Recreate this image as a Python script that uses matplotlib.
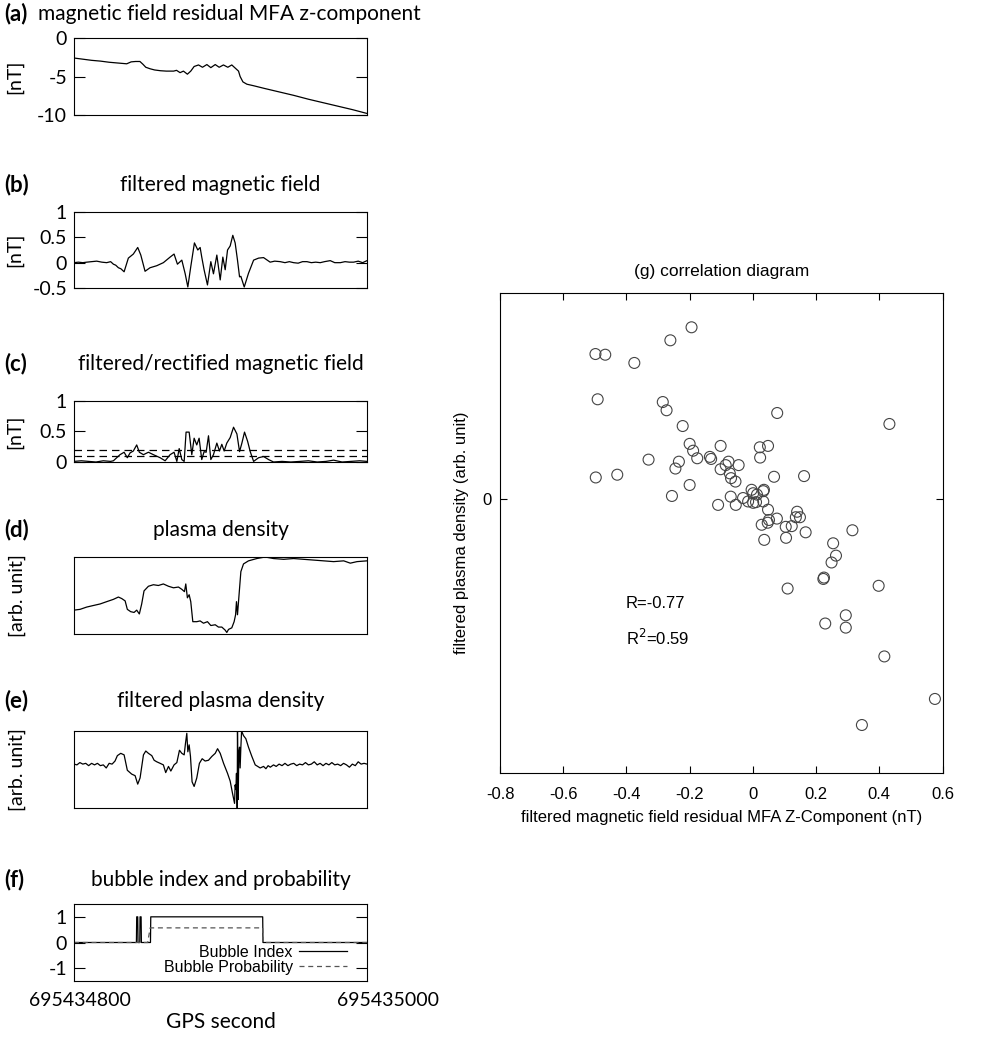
import matplotlib
matplotlib.use("Agg")
import matplotlib.pyplot as plt
from matplotlib.transforms import ScaledTranslation

plt.rcParams['font.family'] = ['Lato', 'DejaVu Sans']
plt.rcParams['axes.unicode_minus'] = False

# ---- data (time in seconds from 695434800) ----
a_t = [0, 6, 12, 18, 24, 30, 36, 39, 42, 45, 47, 49, 52, 55, 59, 63, 68, 70, 72.4, 74.7,
       77.4, 79.7, 82, 85, 87.7, 90.7, 93.4, 96.4, 99.1, 102, 105, 107.7, 110, 112.3, 113.4,
       115.3, 118, 122.6, 130, 140, 150, 160, 170, 180, 190, 200]
a_v = [-2.6, -2.75, -2.9, -3.0, -3.15, -3.25, -3.35, -3.1, -3.05, -3.05, -3.4, -3.8, -4.0,
       -4.15, -4.25, -4.3, -4.3, -4.2, -4.5, -4.3, -4.7, -4.3, -3.7, -3.5, -3.8, -3.45, -3.85,
       -3.45, -3.8, -3.5, -3.8, -3.5, -3.9, -4.3, -5.0, -5.7, -6.0, -6.2, -6.55, -7.0, -7.45,
       -7.95, -8.4, -8.85, -9.3, -9.8]

b_t = [0, 3, 6, 8.7, 12, 15.5, 19, 22.3, 25, 26.9, 28.5, 30.3, 32, 34.2, 37.1, 40.5, 43.5,
       45.6, 48.5, 51.9, 56.5, 61, 65.6, 68.3, 70.6, 73.6, 75.9, 77.7, 79.7, 82.2, 84.5, 86.1,
       87.2, 88.8, 91.1, 93.4, 95.2, 97.5, 99.8, 101.6, 103.2, 104.8, 106.6, 108.4, 110, 111.6,
       113, 113.9, 116.2, 119.1, 122.6, 126, 129.4, 133.9, 137, 140.8, 144, 147, 149.9, 153,
       156, 159, 162, 165, 168.1, 171, 174.9, 178, 181.8, 185, 188, 190.9, 194, 197, 200]
b_v = [0.0, 0.01, 0.0, 0.01, 0.02, 0.03, 0.01, 0.0, 0.02, -0.03, -0.05, -0.10, -0.12, -0.18,
       0.09, 0.17, 0.30, 0.15, -0.17, -0.10, -0.06, 0.0, 0.11, 0.17, -0.03, 0.05, -0.22, -0.48,
       -0.08, 0.39, 0.25, 0.30, 0.11, -0.14, -0.44, 0.02, -0.22, 0.15, -0.34, 0.11, -0.14, 0.25,
       0.33, 0.54, 0.39, 0.05, -0.28, -0.27, -0.48, -0.21, 0.05, 0.09, 0.10, 0.01, 0.03, 0.02,
       0.0, 0.02, 0.0, -0.01, 0.02, 0.02, 0.0, 0.01, 0.0, 0.02, 0.04, 0.0, 0.0, 0.02, 0.01, 0.01,
       0.03, 0.0, 0.04]

c_t = [0, 5, 10, 15, 20, 25, 26.9, 31.4, 34.2, 36.4, 38.3, 40.5, 42.8, 44.6, 47.4, 50.8, 54.2,
       58.8, 62.2, 65.6, 68.3, 70.2, 71.8, 73.6, 75.2, 76.5, 78.6, 80.4, 82, 83.8, 85.4, 87.2,
       88.8, 90.2, 91.8, 93.4, 95.2, 97.5, 99.3, 100.9, 102.5, 104.3, 106.6, 108.9, 111.2, 113,
       114.6, 116.4, 118.5, 120.3, 122.6, 126, 129.4, 132.8, 136.2, 142, 148, 154.4, 160, 166,
       172, 177.2, 183, 189, 195, 200]
c_v = [0.01, 0.02, 0.01, 0.0, 0.02, 0.01, 0.02, 0.12, 0.16, 0.07, 0.15, 0.18, 0.28, 0.16, 0.12,
       0.16, 0.12, 0.07, 0.02, 0.12, 0.16, 0.01, 0.22, 0.04, 0.01, 0.49, 0.49, 0.12, 0.39, 0.28,
       0.39, 0.04, 0.17, 0.16, 0.43, 0.04, 0.12, 0.31, 0.18, 0.29, 0.18, 0.31, 0.40, 0.57, 0.46,
       0.17, 0.31, 0.49, 0.34, 0.17, 0.01, 0.07, 0.09, 0.04, 0.0, 0.01, 0.0, 0.01, 0.02, 0.0,
       0.01, 0.03, 0.0, 0.01, 0.02, 0.01]
c_thresholds = [0.1, 0.2]

d_t = [0, 4.1, 8.7, 13.2, 17.8, 22.3, 26.9, 30.3, 32.6, 34.9, 36.4, 38.7, 41, 42.8, 44.6, 46.2,
       47.8, 50.8, 54.2, 57.6, 61, 64.5, 67.9, 71.3, 73.6, 75.4, 76.3, 77.4, 78.6, 79.7, 81.1,
       83.8, 86.1, 88.4, 91.1, 93.4, 96.4, 98.6, 100.9, 103.2, 104.3, 105.5, 107.7, 109.3,
       110.3, 110.9, 111.6, 112.5, 113.9, 115.7, 119.1, 124.8, 130.5, 136.2, 143.1, 149.9,
       156.7, 163.6, 170.4, 177.2, 184.1, 188.6, 193.2, 200]
d_v = [0.31, 0.32, 0.35, 0.37, 0.39, 0.42, 0.45, 0.48, 0.46, 0.43, 0.32, 0.29, 0.28, 0.31, 0.26,
       0.39, 0.56, 0.62, 0.64, 0.63, 0.65, 0.62, 0.60, 0.61, 0.58, 0.55, 0.65, 0.47, 0.51, 0.42,
       0.16, 0.16, 0.17, 0.14, 0.16, 0.11, 0.12, 0.09, 0.09, 0.05, 0.02, 0.06, 0.08, 0.16, 0.25,
       0.42, 0.25, 0.47, 0.81, 0.91, 0.95, 0.98, 1.0, 0.98, 0.97, 0.98, 0.97, 0.96, 0.95, 0.94,
       0.95, 0.92, 0.94, 0.95]

e_t = [0, 2, 4, 6, 8, 10, 12, 14, 16, 18, 20, 22, 24, 26, 28, 29.6, 31.9, 34.2, 36.4, 39.4,
       41.7, 43.5, 45.1, 47.4, 49, 50.8, 53.1, 54.7, 56.5, 58.8, 61, 62.6, 64.5, 66.1, 68.3,
       70.2, 72, 73.6, 75.2, 76.1, 77, 77.7, 78.6, 79.5, 80.6, 82, 83.8, 85.6, 87.5, 89.5, 91.8,
       94.1, 96.4, 98, 99.8, 102.1, 104.8, 106.6, 108.2, 109.6, 110.0, 110.5, 110.9, 111.4,
       111.6, 112.1, 112.5, 113.0, 113.4, 113.9, 114.4, 115.7, 117.3, 119.1, 121.4, 123.7,
       127.1, 129.4, 131, 132.5, 134, 136.2, 138, 140, 142, 144, 146, 148, 150, 152, 154, 156,
       158, 160, 162, 164, 166, 168, 170, 172, 174, 176, 178, 180, 182, 184, 186, 188, 190,
       192, 194, 196, 198, 200]
e_v = [0.57, 0.56, 0.59, 0.57, 0.58, 0.55, 0.58, 0.56, 0.58, 0.55, 0.56, 0.52, 0.58, 0.57,
       0.61, 0.68, 0.71, 0.69, 0.49, 0.44, 0.42, 0.31, 0.39, 0.69, 0.74, 0.71, 0.68, 0.62, 0.60,
       0.58, 0.56, 0.46, 0.54, 0.48, 0.56, 0.59, 0.75, 0.71, 0.69, 0.84, 0.97, 0.73, 0.82, 0.67,
       0.34, 0.28, 0.39, 0.58, 0.64, 0.61, 0.62, 0.67, 0.71, 0.77, 0.71, 0.58, 0.45, 0.35, 0.19,
       0.06, 0.30, 0.24, 0.45, 0.0, 1.0, 0.11, 0.73, 0.79, 0.52, 0.79, 1.0, 0.94, 0.90, 0.79,
       0.67, 0.56, 0.52, 0.54, 0.51, 0.55, 0.53, 0.56, 0.54, 0.57, 0.55, 0.58, 0.55, 0.57, 0.58,
       0.55, 0.57, 0.56, 0.59, 0.56, 0.57, 0.60, 0.56, 0.58, 0.55, 0.58, 0.56, 0.59, 0.56, 0.57,
       0.55, 0.58, 0.56, 0.53, 0.57, 0.55, 0.60, 0.57, 0.58, 0.57]

f_t = [0, 42.6, 42.8, 43.5, 43.7, 44.9, 45.1, 45.8, 46.0, 52.2, 52.4, 128.8, 129.0, 200]
f_index = [0, 0, 1, 1, 0, 0, 1, 1, 0, 0, 1, 1, 0, 0]
f_pt = [0, 50.3, 52.0, 128.8, 129.0, 200]
f_prob = [0, 0, 0.57, 0.57, 0, 0]
f_tick_labels = ['695434800', '695435000']

g_x = [-0.194, -0.261, -0.498, -0.467, -0.375, -0.491, -0.285, -0.273, 0.077, 0.432,
       -0.222, -0.200, -0.189, -0.102, 0.022, 0.048, 0.023, -0.176, -0.136, -0.132,
       -0.330, -0.234, -0.245, -0.077, -0.045, -0.086, -0.102, -0.073, -0.069, -0.055,
       0.067, 0.162, -0.497, -0.429, -0.200, -0.256, -0.110, -0.070, -0.054, -0.031,
       -0.004, 0.001, 0.033, 0.035, -0.015, 0.001, 0.010, 0.033, 0.048, 0.140,
       0.149, 0.136, 0.076, 0.051, 0.028, 0.047, 0.104, 0.123, 0.167, 0.315,
       0.036, 0.105, 0.254, 0.263, 0.249, 0.223, 0.225, 0.110, 0.398, 0.294,
       0.229, 0.294, 0.416, 0.576, 0.345, 0.013]
g_y = [2.50, 2.31, 2.11, 2.10, 1.98, 1.45, 1.41, 1.29, 1.25, 1.09,
       1.06, 0.80, 0.70, 0.77, 0.75, 0.77, 0.60, 0.59, 0.61, 0.58,
       0.57, 0.54, 0.44, 0.54, 0.49, 0.49, 0.43, 0.37, 0.30, 0.25,
       0.32, 0.33, 0.31, 0.35, 0.20, 0.04, -0.09, 0.03, -0.09, 0.01,
       0.13, 0.08, 0.11, 0.13, -0.04, -0.06, -0.05, -0.04, -0.16, -0.19,
       -0.27, -0.27, -0.29, -0.31, -0.38, -0.35, -0.41, -0.40, -0.49, -0.46,
       -0.60, -0.57, -0.65, -0.83, -0.93, -1.17, -1.15, -1.31, -1.27, -1.70,
       -1.82, -1.88, -2.30, -2.92, -3.30, 0.06]
g_xticks = [-0.8, -0.6, -0.4, -0.2, 0, 0.2, 0.4, 0.6]
g_xticklabels = ['-0.8', '-0.6', '-0.4', '-0.2', '0', '0.2', '0.4', '0.6']

W, H = 999, 1049
fig = plt.figure(figsize=(W / 100, H / 100), dpi=100)


def box(left, top, right, bottom):
    return [left / W, 1 - bottom / H, (right - left) / W, (bottom - top) / H]


def ftext(x, y, s, **kw):
    fig.text(x / W, 1 - y / H, s, va='center', **kw)


def style_left(ax, ylim, yticks, ylabels, ylabel, lab_x=-0.174):
    ax.set_xlim(0, 200)
    ax.set_ylim(*ylim)
    ax.set_yticks(yticks)
    ax.set_yticklabels(ylabels)
    ax.tick_params(axis='y', direction='in', length=8, width=0.8, right=True,
                   labelsize=14, pad=5)
    ax.tick_params(axis='x', length=0, labelbottom=False)
    ax.set_ylabel(ylabel, fontsize=14, labelpad=0)
    ax.yaxis.set_label_coords(lab_x, 0.5)
    for s in ax.spines.values():
        s.set_linewidth(0.8)


lw = 0.9
LX = 74
RX = 367
TFS = 15
panels = [
    ('(b)', 'filtered magnetic field', 185),
    ('(c)', 'filtered/rectified magnetic field', 364),
    ('(d)', 'plasma density', 530),
    ('(e)', 'filtered plasma density', 701),
    ('(f)', 'bubble index and probability', 880),
]

# (a)
ax = fig.add_axes(box(LX, 38, RX, 115))
ax.plot(a_t, a_v, color='black', lw=lw)
style_left(ax, (-10, 0), [0, -5, -10], ['0', '-5', '-10'], '[nT]')
ftext(4, 14, '(a)', fontsize=16, fontweight='bold')
ftext(38, 14, 'magnetic field residual MFA z-component', fontsize=TFS)

# (b)
ax = fig.add_axes(box(LX, 212, RX, 288))
ax.plot(b_t, b_v, color='black', lw=lw)
style_left(ax, (-0.5, 1), [1, 0.5, 0, -0.5], ['1', '0.5', '0', '-0.5'], '[nT]')

# (c)
ax = fig.add_axes(box(LX, 401, RX, 462))
ax.plot(c_t, c_v, color='black', lw=lw)
for thr in c_thresholds:
    ax.axhline(thr, color='black', lw=lw, ls=(0, (6, 4)))
style_left(ax, (0, 1), [1, 0.5, 0], ['1', '0.5', '0'], '[nT]')

# (d)
ax = fig.add_axes(box(LX, 557, RX, 634))
ax.plot(d_t, d_v, color='black', lw=lw)
style_left(ax, (0, 1.0), [], [], '[arb. unit]', lab_x=-0.164)

# (e)
ax = fig.add_axes(box(LX, 731, RX, 808))
ax.plot(e_t, e_v, color='black', lw=lw)
style_left(ax, (0, 1.0), [], [], '[arb. unit]', lab_x=-0.164)

# (f)
ax = fig.add_axes(box(LX, 904, RX, 981))
ax.plot(f_t, f_index, color='black', lw=lw, label='Bubble Index')
ax.plot(f_pt, f_prob, color='#555555', lw=lw, ls=(0, (4, 3)), label='Bubble Probability')
style_left(ax, (-1.5, 1.5), [1, 0, -1], ['1', '0', '-1'], '')
ax.set_xticks([0, 200])
ax.set_xticklabels(f_tick_labels)
ax.tick_params(axis='x', length=0, labelbottom=True, labelsize=14, pad=8)
xl = ax.get_xticklabels()
xl[0].set_transform(xl[0].get_transform() + ScaledTranslation(6 / 100, 0, fig.dpi_scale_trans))
xl[1].set_transform(xl[1].get_transform() + ScaledTranslation(21 / 100, 0, fig.dpi_scale_trans))
ax.set_xlabel('GPS second', fontsize=TFS, labelpad=0)
ax.xaxis.set_label_coords(0.50, -0.40)
leg = ax.legend(loc='lower right', bbox_to_anchor=(0.959, -0.02), frameon=False,
                markerfirst=False, handlelength=3.0, handletextpad=0.4, labelspacing=0.0,
                borderpad=0, prop={'family': 'Liberation Sans', 'size': 11.5})

for lab, title, y in panels:
    ftext(4, y, lab, fontsize=16, fontweight='bold')
    ftext((LX + RX) / 2, y, title, fontsize=TFS, ha='center')

# (g) correlation diagram
axg = fig.add_axes(box(500, 293, 942.5, 773))
axg.scatter(g_x, g_y, s=62, facecolors='none', edgecolors='#444444', linewidths=0.8)
axg.set_xlim(-0.8, 0.6)
axg.set_ylim(-4, 3)
axg.set_xticks(g_xticks)
axg.set_xticklabels(g_xticklabels)
axg.set_yticks([0])
axg.set_yticklabels(['0'])
axg.tick_params(direction='in', length=5, width=0.8, top=True, right=True,
                labelsize=12, pad=10)
axg.tick_params(axis='y', pad=6)
for lbl in axg.get_xticklabels() + axg.get_yticklabels():
    lbl.set_family('Liberation Sans')
for s in axg.spines.values():
    s.set_linewidth(0.8)
axg.set_title('(g) correlation diagram', fontsize=12.5, family='Liberation Sans', pad=12)
axg.set_xlabel('filtered magnetic field residual MFA Z-Component (nT)', fontsize=12,
               family='Liberation Sans', labelpad=6)
axg.set_ylabel('filtered plasma density (arb. unit)', fontsize=12,
               family='Liberation Sans', labelpad=10)
axg.text(0.284, 0.354, 'R=-0.77', transform=axg.transAxes, fontsize=12,
         family='Liberation Sans', va='center')
axg.text(0.284, 0.281, r'R$^{2}$=0.59', transform=axg.transAxes, fontsize=12,
         family='Liberation Sans', va='center')

fig.savefig('out.png', dpi=100)
